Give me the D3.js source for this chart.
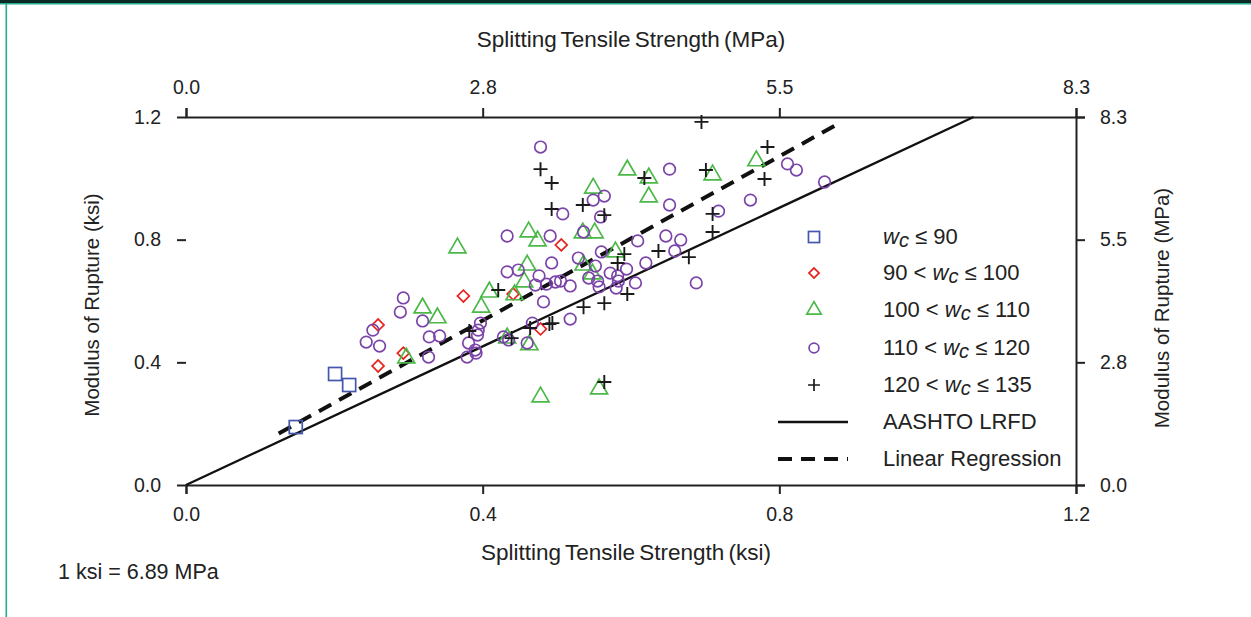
<!DOCTYPE html>
<html>
<head>
<meta charset="utf-8">
<script src="https://cdn.jsdelivr.net/npm/d3@7"></script>
<style>
    body { margin: 0; background: #fff; }
    svg { display: block; font-family: "Liberation Sans", Arial, sans-serif; }
</style>
</head>
<body>
<svg id="chart" width="1251" height="617"></svg>
<script>
// splitting tensile strength (ksi) vs modulus of rupture (ksi), by unit weight group
const sqX = [0.148, 0.201, 0.220];
const sqY = [0.189, 0.362, 0.326];

const diaX = [0.259, 0.259, 0.293, 0.374, 0.441, 0.478, 0.506];
const diaY = [0.522, 0.388, 0.430, 0.616, 0.623, 0.509, 0.783];

const triX = [0.366, 0.462, 0.474, 0.460, 0.456, 0.319, 0.339, 0.297, 0.409, 0.398, 0.443, 0.433, 0.463,
    0.478, 0.595, 0.549, 0.624, 0.624, 0.710, 0.769, 0.535, 0.551, 0.579, 0.536, 0.548, 0.557];
const triY = [0.773, 0.825, 0.796, 0.717, 0.662, 0.577, 0.545, 0.414, 0.629, 0.580, 0.620, 0.479, 0.457,
    0.287, 1.027, 0.968, 1.001, 0.939, 1.011, 1.057, 0.822, 0.822, 0.760, 0.717, 0.688, 0.313];

const circX = [0.478, 0.433, 0.491, 0.493, 0.433, 0.448, 0.476, 0.471, 0.486, 0.498, 0.482, 0.293, 0.289,
    0.319, 0.328, 0.342, 0.252, 0.243, 0.261, 0.327, 0.397, 0.394, 0.381, 0.393, 0.390, 0.379, 0.391,
    0.428, 0.435, 0.467, 0.460, 0.652, 0.564, 0.549, 0.508, 0.559, 0.652, 0.718, 0.761, 0.811, 0.823,
    0.861, 0.536, 0.609, 0.647, 0.667, 0.659, 0.560, 0.529, 0.552, 0.620, 0.594, 0.572, 0.582, 0.583,
    0.518, 0.505, 0.543, 0.555, 0.557, 0.606, 0.580, 0.688, 0.518];
const circY = [1.102, 0.812, 0.812, 0.724, 0.695, 0.701, 0.682, 0.652, 0.655, 0.662, 0.597, 0.610, 0.564,
    0.535, 0.483, 0.486, 0.505, 0.466, 0.453, 0.417, 0.528, 0.505, 0.463, 0.489, 0.440, 0.417, 0.430,
    0.483, 0.473, 0.528, 0.463, 1.030, 0.942, 0.929, 0.884, 0.874, 0.913, 0.893, 0.929, 1.047, 1.027,
    0.988, 0.825, 0.796, 0.812, 0.799, 0.763, 0.760, 0.740, 0.714, 0.724, 0.704, 0.691, 0.682, 0.665,
    0.649, 0.665, 0.675, 0.665, 0.646, 0.659, 0.642, 0.659, 0.541];

const plusX = [0.478, 0.493, 0.493, 0.535, 0.564, 0.618, 0.695, 0.784, 0.701, 0.780, 0.710, 0.710, 0.637,
    0.591, 0.582, 0.678, 0.595, 0.564, 0.536, 0.494, 0.564, 0.421, 0.382, 0.439, 0.464, 0.490];
const plusY = [1.030, 0.985, 0.900, 0.913, 0.880, 1.001, 1.184, 1.102, 1.027, 0.998, 0.884, 0.825, 0.763,
    0.753, 0.724, 0.743, 0.623, 0.593, 0.580, 0.528, 0.336, 0.636, 0.502, 0.479, 0.512, 0.525];

// reference lines
const aashtoX = [0, 1.062];
const aashtoY = [0, 1.2];
const regX = [0.125, 0.875];
const regY = [0.168, 1.172];

const ksiTicks = [0, 0.4, 0.8, 1.2];
const ksiToMpa = 6.89;

const svg = d3.select("#chart");
const plotLeft = 186, plotRight = 1076, plotTop = 117, plotBottom = 485;

const x = d3.scaleLinear().domain([0, 1.2]).range([plotLeft, plotRight]);
const y = d3.scaleLinear().domain([0, 1.2]).range([plotBottom, plotTop]);
const xM = d3.scaleLinear().domain([0, 1.2 * ksiToMpa]).range([plotLeft, plotRight]);
const yM = d3.scaleLinear().domain([0, 1.2 * ksiToMpa]).range([plotBottom, plotTop]);

// page frame
svg.append("rect").attr("x", 0).attr("y", 0).attr("width", 1251).attr("height", 3).attr("fill", "#0d2b26");
svg.append("rect").attr("x", 0).attr("y", 3).attr("width", 1251).attr("height", 1.5).attr("fill", "#22a98f");
svg.append("rect").attr("x", 5.5).attr("y", 3).attr("width", 1.6).attr("height", 614).attr("fill", "#22a98f");

function styleAxis(g) {
    g.select(".domain").attr("stroke", "#222").attr("stroke-width", 2);
    g.selectAll(".tick line").attr("stroke", "#222").attr("stroke-width", 2);
    g.selectAll(".tick text").attr("fill", "#222").attr("font-size", 19.5)
        .attr("font-family", "Liberation Sans, Arial, sans-serif");
}

const gx = svg.append("g").attr("transform", `translate(0,${plotBottom})`)
    .call(d3.axisBottom(x).tickValues(ksiTicks).tickFormat(d3.format(".1f")).tickSizeOuter(0).tickSize(9).tickPadding(13));
styleAxis(gx);

const gxt = svg.append("g").attr("transform", `translate(0,${plotTop})`)
    .call(d3.axisTop(xM).tickValues(ksiTicks.map(v => v * ksiToMpa)).tickFormat(d3.format(".1f")).tickSizeOuter(0).tickSize(9).tickPadding(14));
styleAxis(gxt);

const gy = svg.append("g").attr("transform", `translate(${plotLeft},0)`)
    .call(d3.axisLeft(y).tickValues(ksiTicks).tickFormat(d3.format(".1f")).tickSizeOuter(0).tickSize(9).tickPadding(16));
styleAxis(gy);
gy.select(".domain").remove();

const gyr = svg.append("g").attr("transform", `translate(${plotRight},0)`)
    .call(d3.axisRight(yM).tickValues(ksiTicks.map(v => v * ksiToMpa)).tickFormat(d3.format(".1f")).tickSizeOuter(0).tickSize(9).tickPadding(15));
styleAxis(gyr);

// axis titles
svg.append("text").attr("x", 631).attr("y", 47).attr("text-anchor", "middle")
    .attr("font-size", 22.5).attr("fill", "#222").attr("word-spacing", -2).text("Splitting Tensile Strength (MPa)");
svg.append("text").attr("x", 626).attr("y", 560).attr("text-anchor", "middle")
    .attr("font-size", 22.5).attr("fill", "#222").attr("word-spacing", -2).text("Splitting Tensile Strength (ksi)");
svg.append("text").attr("transform", "translate(99,305) rotate(-90)").attr("text-anchor", "middle")
    .attr("font-size", 20.5).attr("fill", "#222").text("Modulus of Rupture (ksi)");
svg.append("text").attr("transform", "translate(1169,308) rotate(-90)").attr("text-anchor", "middle")
    .attr("font-size", 20.5).attr("fill", "#222").text("Modulus of Rupture (MPa)");
svg.append("text").attr("x", 58).attr("y", 579).attr("font-size", 21.5).attr("fill", "#222").text("1 ksi = 6.89 MPa");

// reference lines
const line = d3.line().x(d => x(d[0])).y(d => y(d[1]));
svg.append("path").datum(d3.zip(aashtoX, aashtoY)).attr("d", line)
    .attr("fill", "none").attr("stroke", "#111").attr("stroke-width", 2.3);
svg.append("path").datum(d3.zip(regX, regY)).attr("d", line)
    .attr("fill", "none").attr("stroke", "#111").attr("stroke-width", 4).attr("stroke-dasharray", "14,9");

// marker drawers
const markers = {
    square: { color: "#4357ad", draw: g => g.append("rect").attr("x", -6.5).attr("y", -6.5).attr("width", 13).attr("height", 13) },
    diamond: { color: "#e8231e", draw: g => g.append("rect").attr("x", -4.2).attr("y", -4.2).attr("width", 8.4).attr("height", 8.4).attr("transform", "rotate(45)") },
    triangle: { color: "#4cb848", draw: g => g.append("path").attr("d", d3.symbol(d3.symbolTriangle, 125)()) },
    circle: { color: "#7a44a8", draw: g => g.append("circle").attr("r", 5.8) },
    plus: { color: "#1a1a1a", draw: g => g.append("path").attr("d", "M-7,0H7M0,-7V7") }
};

function scatter(xs, ys, kind) {
    const m = markers[kind];
    const pts = svg.append("g").selectAll("g").data(d3.zip(xs, ys)).join("g")
        .attr("transform", d => `translate(${x(d[0])},${y(d[1])})`);
    m.draw(pts);
    pts.selectAll("*").attr("fill", "none").attr("stroke", m.color).attr("stroke-width", kind === "plus" ? 1.9 : 1.7);
}

scatter(sqX, sqY, "square");
scatter(diaX, diaY, "diamond");
scatter(triX, triY, "triangle");
scatter(circX, circY, "circle");
scatter(plusX, plusY, "plus");

// legend
const legendItems = [
    { kind: "square", pre: "", post: " \u2264 90" },
    { kind: "diamond", pre: "90 < ", post: " \u2264 100" },
    { kind: "triangle", pre: "100 < ", post: " \u2264 110" },
    { kind: "circle", pre: "110 < ", post: " \u2264 120" },
    { kind: "plus", pre: "120 < ", post: " \u2264 135" }
];
const legY = [237, 273, 310, 348, 385, 422, 459];
const lg = svg.append("g");
legendItems.forEach((it, i) => {
    const g = lg.append("g").attr("transform", `translate(814,${legY[i]}) scale(0.85)`);
    const m = markers[it.kind];
    m.draw(g);
    g.selectAll("*").attr("fill", "none").attr("stroke", m.color).attr("stroke-width", 2);
    const t = lg.append("text").attr("x", 883).attr("y", legY[i] + 7).attr("font-size", 22).attr("fill", "#222");
    t.append("tspan").text(it.pre);
    t.append("tspan").attr("font-style", "italic").text("w");
    t.append("tspan").attr("font-style", "italic").attr("font-size", 20).attr("dy", 3).text("c");
    t.append("tspan").attr("dy", -3).text(it.post);
});
lg.append("line").attr("x1", 778).attr("x2", 848).attr("y1", legY[5]).attr("y2", legY[5])
    .attr("stroke", "#111").attr("stroke-width", 2.3);
lg.append("text").attr("x", 883).attr("y", legY[5] + 7).attr("font-size", 22).attr("fill", "#222").text("AASHTO LRFD");
lg.append("line").attr("x1", 778).attr("x2", 848).attr("y1", legY[6]).attr("y2", legY[6])
    .attr("stroke", "#111").attr("stroke-width", 4).attr("stroke-dasharray", "14,9");
lg.append("text").attr("x", 883).attr("y", legY[6] + 7).attr("font-size", 22).attr("fill", "#222").text("Linear Regression");
</script>
</body>
</html>
